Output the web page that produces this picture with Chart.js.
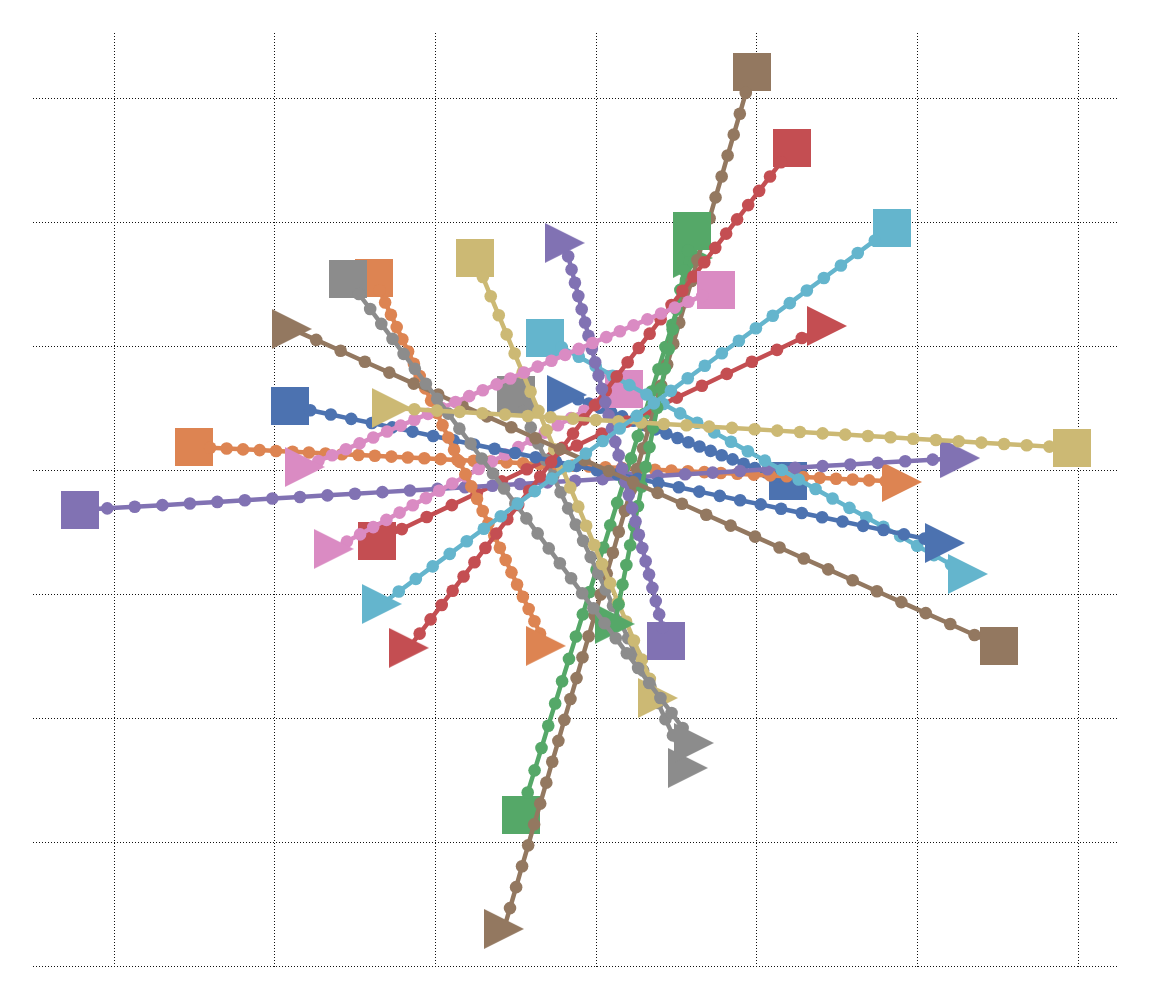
<!DOCTYPE html>
<html><head><meta charset="utf-8">
<script src="https://cdn.jsdelivr.net/npm/chart.js@4.4.1/dist/chart.umd.min.js"></script>
<style>html,body{margin:0;padding:0;background:#fff;}#wrap{width:1152px;height:1002px;}</style>
</head><body><div id="wrap"><canvas id="c" width="1152" height="1002"></canvas></div>
<script>
// ---- data (x, y per line) ----
const L0_X=[1.193,1.124,1.056,0.987,0.918,0.849,0.781,0.712,0.643,0.574,0.506,0.437,0.368,0.299,0.231,0.162,0.093,0.024,-0.045,-0.113,-0.182];
const L0_Y=[-0.085,-0.050,-0.016,0.019,0.054,0.089,0.123,0.158,0.193,0.227,0.262,0.297,0.331,0.366,0.401,0.436,0.470,0.505,0.540,0.574,0.609];
const L1_X=[-2.504,-2.402,-2.299,-2.197,-2.094,-1.992,-1.889,-1.787,-1.684,-1.582,-1.479,-1.377,-1.274,-1.172,-1.069,-0.967,-0.864,-0.762,-0.659,-0.557,-0.454,-0.352,-0.249,-0.147,-0.044,0.058,0.161,0.263,0.366,0.468,0.571,0.673,0.776,0.878,0.981,1.083,1.186,1.288,1.391,1.493,1.596,1.698,1.801,1.903];
const L1_Y=[0.190,0.183,0.177,0.170,0.164,0.157,0.151,0.144,0.137,0.131,0.124,0.118,0.111,0.104,0.098,0.091,0.085,0.078,0.072,0.065,0.058,0.052,0.045,0.039,0.032,0.026,0.019,0.012,0.006,-0.001,-0.007,-0.014,-0.021,-0.027,-0.034,-0.040,-0.047,-0.053,-0.060,-0.067,-0.073,-0.080,-0.086,-0.093];
const L2_X=[-0.469,-0.426,-0.383,-0.340,-0.298,-0.255,-0.212,-0.169,-0.126,-0.083,-0.041,0.002,0.045,0.088,0.131,0.174,0.217,0.259,0.302,0.345,0.388,0.431,0.474,0.516,0.559,0.602];
const L2_Y=[-2.778,-2.598,-2.419,-2.239,-2.059,-1.880,-1.700,-1.520,-1.340,-1.161,-0.981,-0.801,-0.622,-0.442,-0.262,-0.083,0.097,0.277,0.457,0.636,0.816,0.996,1.175,1.355,1.535,1.714];
const L3_X=[-1.365,-1.209,-1.054,-0.898,-0.743,-0.587,-0.431,-0.276,-0.120,0.035,0.191,0.347,0.502,0.658,0.813,0.969,1.125,1.280,1.436];
const L3_Y=[-0.569,-0.473,-0.376,-0.280,-0.184,-0.088,0.009,0.105,0.201,0.298,0.394,0.490,0.587,0.683,0.779,0.876,0.972,1.068,1.165];
const L4_X=[-3.213,-3.042,-2.871,-2.699,-2.528,-2.357,-2.186,-2.015,-1.843,-1.672,-1.501,-1.330,-1.159,-0.987,-0.816,-0.645,-0.474,-0.303,-0.131,0.040,0.211,0.382,0.553,0.725,0.896,1.067,1.238,1.409,1.581,1.752,1.923,2.094,2.265];
const L4_Y=[-0.319,-0.306,-0.293,-0.280,-0.267,-0.254,-0.240,-0.227,-0.214,-0.201,-0.188,-0.175,-0.162,-0.149,-0.136,-0.123,-0.109,-0.096,-0.083,-0.070,-0.057,-0.044,-0.031,-0.018,-0.005,0.009,0.022,0.035,0.048,0.061,0.074,0.087,0.100];
const L5_X=[0.969,0.931,0.894,0.856,0.818,0.781,0.743,0.706,0.668,0.630,0.593,0.555,0.517,0.480,0.442,0.405,0.367,0.329,0.292,0.254,0.216,0.179,0.141,0.104,0.066,0.028,-0.009,-0.047,-0.085,-0.122,-0.160,-0.198,-0.235,-0.273,-0.310,-0.348,-0.386,-0.423,-0.461,-0.498,-0.536,-0.574];
const L5_Y=[3.214,3.045,2.877,2.708,2.540,2.371,2.202,2.034,1.865,1.697,1.528,1.359,1.191,1.022,0.854,0.685,0.517,0.348,0.179,0.011,-0.158,-0.326,-0.495,-0.664,-0.832,-1.001,-1.169,-1.338,-1.507,-1.675,-1.844,-2.012,-2.181,-2.349,-2.518,-2.687,-2.855,-3.024,-3.192,-3.361,-3.530,-3.698];
const L6_X=[0.172,0.090,0.008,-0.074,-0.156,-0.238,-0.320,-0.402,-0.484,-0.566,-0.649,-0.731,-0.813,-0.895,-0.977,-1.059,-1.141,-1.223,-1.305,-1.387,-1.469,-1.551,-1.633];
const L6_Y=[0.657,0.598,0.540,0.481,0.422,0.364,0.305,0.247,0.188,0.129,0.071,0.012,-0.047,-0.105,-0.164,-0.223,-0.281,-0.340,-0.399,-0.457,-0.516,-0.574,-0.633];
const L7_X=[-0.500,-0.453,-0.407,-0.360,-0.314,-0.267,-0.221,-0.174,-0.127,-0.081,-0.034,0.012,0.059,0.105,0.152,0.199,0.245,0.292,0.338,0.385,0.431,0.478,0.525,0.571];
const L7_Y=[0.609,0.478,0.347,0.217,0.086,-0.045,-0.176,-0.306,-0.437,-0.568,-0.699,-0.830,-0.960,-1.091,-1.222,-1.353,-1.483,-1.614,-1.745,-1.876,-2.007,-2.137,-2.268,-2.399];
const L8_X=[-0.755,-0.705,-0.656,-0.606,-0.557,-0.507,-0.458,-0.408,-0.359,-0.309,-0.260,-0.210,-0.161,-0.111,-0.062,-0.012,0.037,0.087,0.136,0.186,0.235,0.285,0.334,0.384];
const L8_Y=[1.714,1.560,1.405,1.251,1.097,0.943,0.788,0.634,0.480,0.325,0.171,0.017,-0.138,-0.292,-0.446,-0.601,-0.755,-0.909,-1.063,-1.218,-1.372,-1.526,-1.681,-1.835];
const L9_X=[-0.319,-0.214,-0.108,-0.003,0.102,0.207,0.313,0.418,0.523,0.629,0.734,0.839,0.944,1.050,1.155,1.260,1.365,1.471,1.576,1.681,1.787,1.892,1.997,2.102,2.208,2.313];
const L9_Y=[1.069,0.993,0.917,0.841,0.764,0.688,0.612,0.536,0.460,0.384,0.307,0.231,0.155,0.079,0.003,-0.073,-0.150,-0.226,-0.302,-0.378,-0.454,-0.530,-0.607,-0.683,-0.759,-0.835];
const L10_X=[-1.906,-1.779,-1.651,-1.524,-1.396,-1.269,-1.142,-1.014,-0.887,-0.760,-0.632,-0.505,-0.377,-0.250,-0.123,0.005,0.132,0.259,0.387,0.514,0.642,0.769,0.896,1.024,1.151,1.279,1.406,1.533,1.661,1.788,1.915,2.043,2.170];
const L10_Y=[0.520,0.485,0.451,0.416,0.382,0.347,0.313,0.278,0.244,0.209,0.175,0.140,0.106,0.071,0.037,0.002,-0.032,-0.067,-0.102,-0.136,-0.171,-0.205,-0.240,-0.274,-0.309,-0.343,-0.378,-0.412,-0.447,-0.481,-0.516,-0.550,-0.585];
const L11_X=[-1.384,-1.348,-1.313,-1.277,-1.241,-1.206,-1.170,-1.134,-1.098,-1.063,-1.027,-0.991,-0.956,-0.920,-0.884,-0.849,-0.813,-0.777,-0.741,-0.706,-0.670,-0.634,-0.599,-0.563,-0.527,-0.492,-0.456,-0.420,-0.384,-0.349,-0.313];
const L11_Y=[1.552,1.453,1.354,1.255,1.156,1.058,0.959,0.860,0.761,0.662,0.563,0.464,0.365,0.266,0.167,0.069,-0.030,-0.129,-0.228,-0.327,-0.426,-0.525,-0.624,-0.723,-0.822,-0.920,-1.019,-1.118,-1.217,-1.316,-1.415];
const L12_X=[0.596,0.572,0.548,0.524,0.500,0.476,0.452,0.428,0.404,0.380,0.356,0.332,0.308,0.284,0.260,0.236,0.212,0.188,0.164,0.140,0.116];
const L12_Y=[1.931,1.773,1.614,1.456,1.297,1.139,0.980,0.822,0.663,0.505,0.346,0.188,0.030,-0.129,-0.287,-0.446,-0.604,-0.763,-0.921,-1.080,-1.238];
const L13_X=[1.218,1.150,1.082,1.014,0.946,0.877,0.809,0.741,0.673,0.605,0.537,0.469,0.401,0.333,0.265,0.196,0.128,0.060,-0.008,-0.076,-0.144,-0.212,-0.280,-0.348,-0.417,-0.485,-0.553,-0.621,-0.689,-0.757,-0.825,-0.893,-0.961,-1.030,-1.098,-1.166];
const L13_Y=[2.601,2.486,2.371,2.255,2.140,2.025,1.910,1.795,1.679,1.564,1.449,1.334,1.219,1.103,0.988,0.873,0.758,0.643,0.527,0.412,0.297,0.182,0.067,-0.049,-0.164,-0.279,-0.394,-0.509,-0.625,-0.740,-0.855,-0.970,-1.085,-1.201,-1.316,-1.431];
const L14_X=[0.434,0.413,0.392,0.371,0.350,0.329,0.308,0.287,0.266,0.245,0.224,0.203,0.182,0.161,0.140,0.119,0.098,0.078,0.057,0.036,0.015,-0.006,-0.027,-0.048,-0.069,-0.090,-0.111,-0.132,-0.153,-0.174,-0.195];
const L14_Y=[-1.375,-1.268,-1.161,-1.054,-0.947,-0.840,-0.733,-0.626,-0.519,-0.412,-0.305,-0.198,-0.091,0.016,0.123,0.230,0.337,0.444,0.551,0.658,0.765,0.872,0.979,1.086,1.193,1.300,1.407,1.514,1.621,1.728,1.835];
const L15_X=[2.506,2.354,2.203,2.051,1.899,1.747,1.596,1.444,1.292,1.141,0.989,0.837,0.685,0.534,0.382,0.230,0.079,-0.073,-0.225,-0.377,-0.528,-0.680,-0.832,-0.983,-1.135,-1.287,-1.439,-1.590,-1.742,-1.894];
const L15_Y=[-1.415,-1.327,-1.239,-1.151,-1.062,-0.974,-0.886,-0.798,-0.710,-0.622,-0.534,-0.445,-0.357,-0.269,-0.181,-0.093,-0.005,0.083,0.172,0.260,0.348,0.436,0.524,0.612,0.700,0.789,0.877,0.965,1.053,1.141];
const L16_X=[0.745,0.660,0.574,0.489,0.404,0.319,0.233,0.148,0.063,-0.022,-0.108,-0.193,-0.278,-0.364,-0.449,-0.534,-0.619,-0.705,-0.790,-0.875,-0.960,-1.046,-1.131,-1.216,-1.301,-1.387,-1.472,-1.557,-1.643,-1.728,-1.813];
const L16_Y=[1.456,1.408,1.361,1.313,1.266,1.218,1.170,1.123,1.075,1.028,0.980,0.932,0.885,0.837,0.790,0.742,0.694,0.647,0.599,0.552,0.504,0.456,0.409,0.361,0.314,0.266,0.218,0.171,0.123,0.076,0.028];
const L17_X=[-1.545,-1.476,-1.406,-1.337,-1.267,-1.198,-1.128,-1.059,-0.989,-0.920,-0.851,-0.781,-0.712,-0.642,-0.573,-0.503,-0.434,-0.364,-0.295,-0.226,-0.156,-0.087,-0.017,0.052,0.122,0.191,0.261,0.330,0.400,0.469,0.538,0.608];
const L17_Y=[1.544,1.423,1.302,1.182,1.061,0.940,0.820,0.699,0.578,0.458,0.337,0.216,0.096,-0.025,-0.146,-0.267,-0.387,-0.508,-0.629,-0.749,-0.870,-0.991,-1.112,-1.232,-1.353,-1.474,-1.594,-1.715,-1.836,-1.956,-2.077,-2.198];
const L18_X=[2.961,2.820,2.679,2.538,2.397,2.256,2.114,1.973,1.832,1.691,1.550,1.409,1.268,1.127,0.986,0.845,0.703,0.562,0.421,0.280,0.139,-0.002,-0.143,-0.284,-0.425,-0.567,-0.708,-0.849,-0.990,-1.131,-1.272];
const L18_Y=[0.181,0.192,0.203,0.213,0.224,0.235,0.246,0.256,0.267,0.278,0.289,0.299,0.310,0.321,0.332,0.343,0.353,0.364,0.375,0.386,0.396,0.407,0.418,0.429,0.439,0.450,0.461,0.472,0.482,0.493,0.504];
const L19_X=[1.840,1.734,1.628,1.523,1.417,1.311,1.205,1.099,0.994,0.888,0.782,0.676,0.570,0.465,0.359,0.253,0.147,0.041,-0.064,-0.170,-0.276,-0.382,-0.488,-0.593,-0.699,-0.805,-0.911,-1.017,-1.122,-1.228,-1.334];
const L19_Y=[1.956,1.855,1.754,1.653,1.552,1.451,1.349,1.248,1.147,1.046,0.945,0.844,0.743,0.642,0.541,0.440,0.338,0.237,0.136,0.035,-0.066,-0.167,-0.268,-0.369,-0.470,-0.571,-0.673,-0.774,-0.875,-0.976,-1.077];

const LINES_X=[L0_X,L1_X,L2_X,L3_X,L4_X,L5_X,L6_X,L7_X,L8_X,L9_X,L10_X,L11_X,L12_X,L13_X,L14_X,L15_X,L16_X,L17_X,L18_X,L19_X];
const LINES_Y=[L0_Y,L1_Y,L2_Y,L3_Y,L4_Y,L5_Y,L6_Y,L7_Y,L8_Y,L9_Y,L10_Y,L11_Y,L12_Y,L13_Y,L14_Y,L15_Y,L16_Y,L17_Y,L18_Y,L19_Y];
const X_TICKS=[-3,-2,-1,0,1,2,3];
const Y_TICKS=[-4,-3,-2,-1,0,1,2,3];

// ---- styles ----
const PALETTE=['#4C72B0','#DD8452','#55A868','#C44E52','#8172B3','#937860','#DA8BC3','#8C8C8C','#CCB974','#64B5CD'];
function squareImg(color){const c=document.createElement('canvas');c.width=38;c.height=38;const g=c.getContext('2d');g.fillStyle=color;g.fillRect(0,0,38,38);return c;}
function triImg(color){const c=document.createElement('canvas');c.width=40;c.height=40;const g=c.getContext('2d');g.fillStyle=color;g.beginPath();g.moveTo(0,0);g.lineTo(40,20);g.lineTo(0,40);g.closePath();g.fill();return c;}

const N=LINES_X.length;
const datasets=LINES_X.map((xs,i)=>{
  const col=PALETTE[i%PALETTE.length];
  const sq=squareImg(col), tr=triImg(col);
  const styles=xs.map((_,k)=>k===0?sq:(k===xs.length-1?tr:'circle'));
  return {
    data: xs.map((x,k)=>({x:x,y:LINES_Y[i][k]})),
    showLine:true, tension:0, borderColor:col, backgroundColor:col, borderWidth:4.5,
    pointRadius:6.3, pointBorderWidth:0, pointBackgroundColor:col, pointStyle:styles,
    order:N-1-i, clip:false
  };
});

const gridCommon={color:'#111',lineWidth:1,drawTicks:false};
new Chart(document.getElementById('c').getContext('2d'),{
  type:'scatter',
  data:{datasets},
  options:{
    responsive:false, animation:false, devicePixelRatio:1, events:[],
    layout:{padding:{left:33,top:33,right:34,bottom:35}},
    plugins:{legend:{display:false},tooltip:{enabled:false}},
    scales:{
      x:{type:'linear',min:-3.504,max:3.247,
         afterBuildTicks:(s)=>{s.ticks=X_TICKS.map(v=>({value:v}));},
         ticks:{display:false,stepSize:1,includeBounds:false},
         grid:gridCommon, border:{display:false,dash:[1,2]}},
      y:{type:'linear',min:-4.005,max:3.528,
         afterBuildTicks:(s)=>{s.ticks=Y_TICKS.map(v=>({value:v}));},
         ticks:{display:false,stepSize:1,includeBounds:false},
         grid:gridCommon, border:{display:false,dash:[1,2]}}
    }
  }
});
</script></body></html>
